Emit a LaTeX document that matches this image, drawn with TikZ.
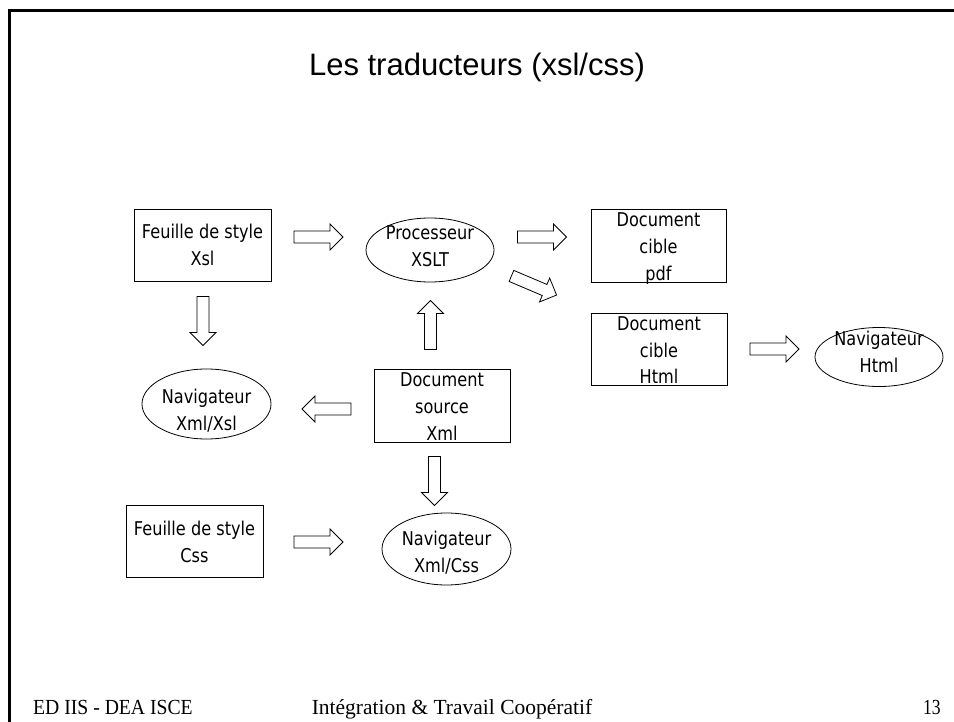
\documentclass[tikz,border=0pt]{standalone}
\usepackage{graphicx}
\usepackage{fontspec}
\setmainfont{DejaVu Sans}
\newfontfamily\nodefont[FakeStretch=0.85]{DejaVu Sans}
\newfontfamily\titlefont{Liberation Sans}
\newfontfamily\footfont{Liberation Serif}
\usetikzlibrary{shapes.geometric}
% centred lines of text, first baseline raised by #1 above the node centre
\newcommand\tl[2]{\makebox[0pt]{\raisebox{#1}[0pt][0pt]{\vtop{\tabskip=0pt\halign{\hfil##\hfil\cr#2\crcr}}}}}
\tikzset{
  nodetext/.style={font=\nodefont\fontsize{19}{27}\selectfont, inner sep=0pt},
  boxnode/.style={nodetext, draw, line width=0.9pt, rectangle},
  ovalnode/.style={nodetext, draw, line width=0.8pt, ellipse},
  blockarrow/.pic={\draw[line width=0.8pt, line join=miter]
     (-24.5,-6) -- (11.5,-6) -- (11.5,-13) -- (24.5,0) -- (11.5,13) -- (11.5,6) -- (-24.5,6) -- cycle;},
  footer/.style={font=\footfont\fontsize{21.5}{24}\selectfont, inner sep=0pt}
}
\begin{document}
\begin{tikzpicture}[x=1pt,y=-1pt]
\useasboundingbox (0,0) rectangle (954,722);
% frame
\draw[line width=3pt] (9,722) -- (9,10.8) -- (954,10.8);
% title
\node[font=\titlefont\fontsize{31}{36}\selectfont, anchor=base, inner sep=0pt] (title) at (477,75.5) {Les traducteurs (xsl/css)};
% nodes
\node[boxnode, minimum width=137pt, minimum height=72pt] (featxsl) at (202.5,245) {\tl{6pt}{Feuille de style\cr Xsl}};
\node[ovalnode, minimum width=128pt, minimum height=64pt] (proc) at (430,250) {\tl{10pt}{Processeur\cr XSLT}};
\node[boxnode, minimum width=135pt, minimum height=73pt] (cpdf) at (658.5,245.5) {\tl{18.5pt}{Document\cr cible\cr pdf}};
\node[boxnode, minimum width=136pt, minimum height=72pt] (chtml) at (659,349) {\tl{19pt}{Document\cr cible\cr Html}};
\node[ovalnode, minimum width=128pt, minimum height=59pt] (navhtml) at (879,357) {\tl{12pt}{Navigateur\cr Html}};
\node[ovalnode, minimum width=129pt, minimum height=70pt] (navxsl) at (206.5,404) {\tl{1pt}{Navigateur\cr Xml/Xsl}};
\node[boxnode, minimum width=136pt, minimum height=73pt] (src) at (442,405.5) {\tl{19pt}{Document\cr source\cr Xml}};
\node[boxnode, minimum width=137pt, minimum height=72pt] (fcss) at (194.5,541) {\tl{6pt}{Feuille de style\cr Css}};
\node[ovalnode, minimum width=129pt, minimum height=72pt] (navcss) at (446.5,549) {\tl{4pt}{Navigateur\cr Xml/Css}};
% block arrows
\pic at (318.5,237) {blockarrow};
\pic at (542,237) {blockarrow};
\pic[rotate=-23] at (534,285.5) {blockarrow};
\pic at (774.5,349) {blockarrow};
\pic[rotate=-90] at (203,321) {blockarrow};
\pic[rotate=90] at (430.5,325) {blockarrow};
\pic[rotate=180] at (326.5,409) {blockarrow};
\pic[rotate=-90] at (434.5,481) {blockarrow};
\pic at (318.5,542) {blockarrow};
% footer
\node[footer, anchor=base west] (fl) at (33,714) {\scalebox{0.915}[1]{ED IIS - DEA ISCE}};
\node[footer, anchor=base] (fc) at (452,714) {Intégration \& Travail Coopératif};
\node[footer, anchor=base east] (fr) at (941,714) {\scalebox{0.82}[1]{13}};
\end{tikzpicture}
\end{document}
